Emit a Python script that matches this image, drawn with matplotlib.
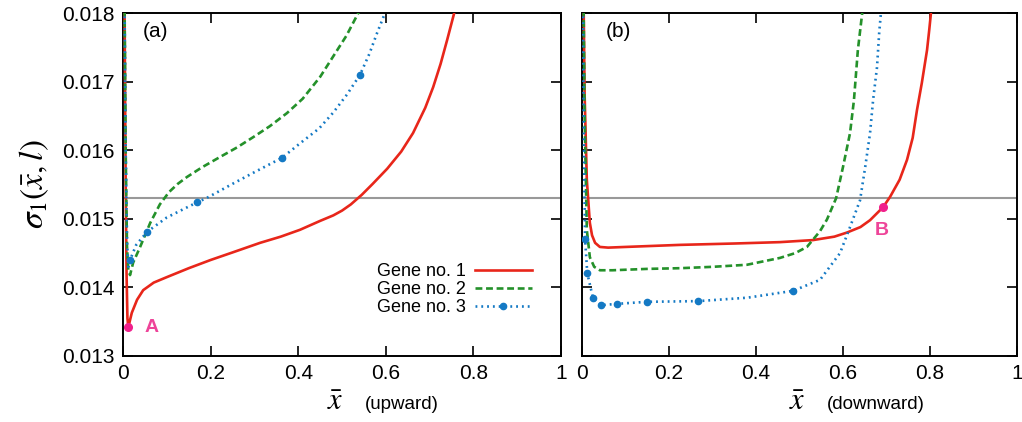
import matplotlib
matplotlib.use('Agg')
import matplotlib.pyplot as plt

plt.rcParams['font.family'] = ['Liberation Sans', 'DejaVu Sans']
plt.rcParams['mathtext.fontset'] = 'stix'

# panel (a): upward
red_a_x = [0.003, 0.006, 0.008, 0.010, 0.012, 0.02, 0.032, 0.046, 0.07, 0.1, 0.15, 0.2, 0.25,
           0.313, 0.36, 0.404, 0.45, 0.48, 0.5, 0.52, 0.545, 0.57, 0.603, 0.635, 0.662, 0.69,
           0.708, 0.725, 0.74, 0.756, 0.765]
red_a_y = [0.0185, 0.0155, 0.0142, 0.01355, 0.01342, 0.01363, 0.01382, 0.01396, 0.01407,
           0.01415, 0.01428, 0.0144, 0.01451, 0.01465, 0.01474, 0.01484, 0.01497, 0.01505,
           0.01512, 0.01521, 0.01535, 0.01551, 0.01573, 0.01598, 0.01625, 0.01662, 0.01692,
           0.01726, 0.01761, 0.018, 0.0183]
green_a_x = [0.003, 0.006, 0.009, 0.012, 0.016, 0.023, 0.039, 0.062, 0.084, 0.105, 0.125,
             0.146, 0.18, 0.221, 0.26, 0.297, 0.335, 0.374, 0.41, 0.45, 0.48, 0.51, 0.537,
             0.545]
green_a_y = [0.0185, 0.0160, 0.0146, 0.01425, 0.01418, 0.01436, 0.01459, 0.01494, 0.01521,
             0.01539, 0.01551, 0.01561, 0.01575, 0.0159, 0.01604, 0.01619, 0.01635, 0.01654,
             0.01675, 0.01707, 0.01737, 0.01767, 0.018, 0.0181]
blue_a_x = [0.003, 0.006, 0.009, 0.012, 0.016, 0.03, 0.055, 0.1, 0.169, 0.19, 0.25, 0.297,
            0.363, 0.404, 0.448, 0.48, 0.511, 0.541, 0.562, 0.58, 0.598, 0.605]
blue_a_y = [0.0185, 0.0160, 0.0147, 0.0143, 0.0144, 0.01462, 0.01481, 0.01502, 0.01524,
            0.0153, 0.01551, 0.01567, 0.01589, 0.0161, 0.01632, 0.01655, 0.01681, 0.0171,
            0.0174, 0.01771, 0.018, 0.0181]
blue_a_marks = [4, 6, 8, 12, 17]

# panel (b): downward
red_b_x = [0.003, 0.006, 0.011, 0.018, 0.023, 0.03, 0.041, 0.06, 0.1, 0.225, 0.35, 0.455,
           0.531, 0.58, 0.609, 0.64, 0.662, 0.692, 0.708, 0.73, 0.747, 0.76, 0.77, 0.781,
           0.793, 0.798, 0.802, 0.806]
red_b_y = [0.0185, 0.0168, 0.01557, 0.01494, 0.01476, 0.01465, 0.01459, 0.01458, 0.01459,
           0.01462, 0.01464, 0.01466, 0.01469, 0.01474, 0.0148, 0.01488, 0.01498, 0.01517,
           0.01532, 0.01557, 0.01586, 0.01618, 0.01659, 0.01698, 0.01746, 0.01775, 0.018,
           0.0182]
green_b_x = [0.003, 0.006, 0.011, 0.018, 0.028, 0.041, 0.07, 0.15, 0.225, 0.3, 0.379, 0.455,
             0.49, 0.517, 0.547, 0.563, 0.584, 0.6, 0.616, 0.625, 0.634, 0.644, 0.648]
green_b_y = [0.0185, 0.0165, 0.01484, 0.01444, 0.0143, 0.01425, 0.01425, 0.01427, 0.01428,
             0.0143, 0.01433, 0.01443, 0.0145, 0.01459, 0.01482, 0.01499, 0.0153, 0.01576,
             0.01625, 0.01673, 0.01746, 0.018, 0.0182]
blue_b_x = [0.002, 0.004, 0.007, 0.012, 0.025, 0.043, 0.08, 0.149, 0.267, 0.38, 0.485, 0.547,
            0.593, 0.616, 0.639, 0.651, 0.662, 0.669, 0.678, 0.683, 0.687, 0.69]
blue_b_y = [0.0185, 0.0163, 0.01471, 0.01421, 0.01385, 0.01374, 0.01376, 0.01379, 0.0138,
            0.01385, 0.01395, 0.01411, 0.0145, 0.01488, 0.01527, 0.01576, 0.01625, 0.01673,
            0.01721, 0.01771, 0.018, 0.0182]
blue_b_marks = [2, 3, 4, 5, 6, 7, 8, 10]

threshold = 0.0153
point_a = (0.012, 0.01342)
point_b = (0.692, 0.01517)

RED = '#e8261a'
GREEN = '#24912a'
BLUE = '#1479c4'
PINK = '#f0208c'


def style_axes(ax, show_ylabels):
    ax.set_xlim(0, 1)
    ax.set_ylim(0.013, 0.018)
    ax.set_xticks([0, 0.2, 0.4, 0.6, 0.8, 1])
    ax.set_xticklabels(['0', '0.2', '0.4', '0.6', '0.8', '1'])
    ax.set_yticks([0.013, 0.014, 0.015, 0.016, 0.017, 0.018])
    ax.tick_params(direction='in', top=True, right=True, length=7, width=1.2,
                   labelsize=15, pad=6)
    if not show_ylabels:
        ax.tick_params(labelleft=False)
    for s in ax.spines.values():
        s.set_linewidth(1.4)
    ax.axhline(threshold, color='#999999', lw=1.5, zorder=1)


def plot_panel(ax, rx, ry, gx, gy, bx, by, bmarks):
    ax.plot(rx, ry, color=RED, lw=1.9, label='Gene no. 1', zorder=3)
    ax.plot(gx, gy, color=GREEN, lw=1.9, linestyle=(0, (2.6, 1.4)), label='Gene no. 2', zorder=3)
    ax.plot(bx, by, color=BLUE, lw=1.9, linestyle=(0, (0.7, 1.5)), marker='o',
            markersize=4.5, markevery=bmarks, label='Gene no. 3', zorder=3)


fig = plt.figure(figsize=(10.22, 4.22), dpi=100)
ax1 = fig.add_axes([0.1204, 0.1564, 0.4286, 0.8127])
ax2 = fig.add_axes([0.5695, 0.1564, 0.4257, 0.8127])

style_axes(ax1, True)
style_axes(ax2, False)

plot_panel(ax1, red_a_x, red_a_y, green_a_x, green_a_y, blue_a_x, blue_a_y, blue_a_marks)
plot_panel(ax2, red_b_x, red_b_y, green_b_x, green_b_y, blue_b_x, blue_b_y, blue_b_marks)

ax1.plot(*point_a, 'o', color=PINK, markersize=5.5, zorder=5)
ax2.plot(*point_b, 'o', color=PINK, markersize=5.5, zorder=5)
ax1.text(0.048, 0.01342, 'A', color='#ee4499', fontsize=14, fontweight='bold', va='center')
ax2.text(0.672, 0.01483, 'B', color='#ee4499', fontsize=14, fontweight='bold', va='center')

ax1.text(0.045, 0.947, '(a)', transform=ax1.transAxes, fontsize=15, va='center')
ax2.text(0.055, 0.947, '(b)', transform=ax2.transAxes, fontsize=15, va='center')

ax1.legend(loc='lower right', bbox_to_anchor=(0.955, 0.09), frameon=False, fontsize=13,
           markerfirst=False, handlelength=3.2, numpoints=1, labelspacing=0.05,
           handletextpad=0.5, borderpad=0)

ax1.set_ylabel(r'$\sigma_1(\bar{x}, l)$', fontsize=24, labelpad=8)

ax1.text(0.484, -0.135, r'$\bar{x}$', transform=ax1.transAxes, fontsize=22,
         ha='center', va='center')
ax1.text(0.552, -0.14, '(upward)', transform=ax1.transAxes, fontsize=13.5,
         ha='left', va='center')
ax2.text(0.494, -0.135, r'$\bar{x}$', transform=ax2.transAxes, fontsize=22,
         ha='center', va='center')
ax2.text(0.562, -0.14, '(downward)', transform=ax2.transAxes, fontsize=13.5,
         ha='left', va='center')

fig.savefig('out.png', dpi=100)
